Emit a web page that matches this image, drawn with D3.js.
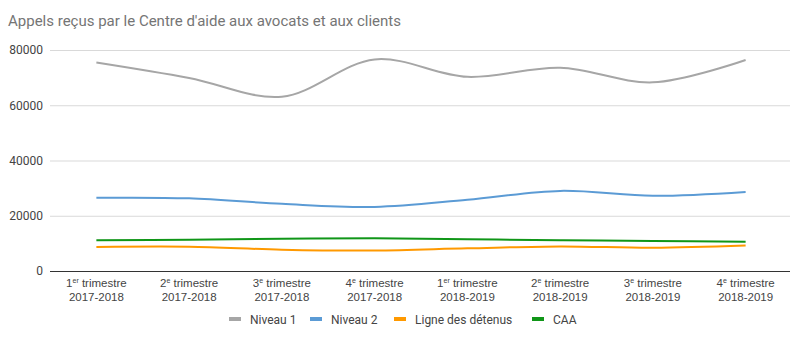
<!DOCTYPE html>
<html><head><meta charset="utf-8">
<script src="https://cdn.jsdelivr.net/npm/d3@7/dist/d3.min.js"></script>
<style>
html,body{margin:0;padding:0;background:#fff;}
svg{display:block;font-family:Roboto, "Noto Sans", sans-serif;}
</style></head>
<body><svg id="c" width="790" height="341"></svg>
<script>
const title = "Appels reçus par le Centre d'aide aux avocats et aux clients";
const quarterNums = ["1", "2", "3", "4", "1", "2", "3", "4"];
const quarterSups = ["er", "e", "e", "e", "er", "e", "e", "e"];
const quarterWord = " trimestre";
const years = ["2017-2018","2017-2018","2017-2018","2017-2018","2018-2019","2018-2019","2018-2019","2018-2019"];
const seriesNames = ["Niveau 1", "Niveau 2", "Ligne des détenus", "CAA"];
const niveau1 = [75500, 69900, 63100, 76600, 70300, 73600, 68300, 76400];
const niveau2 = [26500, 26300, 24300, 23200, 25800, 29000, 27200, 28600];
const detenus = [8700, 8800, 7700, 7400, 8200, 8900, 8400, 9200];
const caa = [11100, 11300, 11700, 11850, 11500, 11100, 10900, 10600];
const yTicks = [0, 20000, 40000, 60000, 80000];
const colors = ["#a6a6a6", "#5b9bd5", "#ff9900", "#109618"];

const svg = d3.select("#c");
const pLeft = 50, pRight = 792, pTop = 50, pBottom = 271;
const idx = d3.range(quarterNums.length);
const x = d3.scaleBand().domain(idx).range([pLeft, pRight]);
const y = d3.scaleLinear().domain([0, 80000]).range([pBottom, pTop]);

svg.append("text").attr("x", 8).attr("y", 26).attr("font-size", 15)
  .attr("fill", "#757575").text(title);

// grid
const yAxis = d3.axisLeft(y).tickValues(yTicks).tickSize(-(pRight - pLeft)).tickFormat(d3.format("d"));
const gy = svg.append("g").attr("transform", `translate(${pLeft},0)`).call(yAxis);
gy.select(".domain").remove();
gy.selectAll(".tick line").attr("stroke", "#d9d9d9");
gy.selectAll(".tick text").attr("x", -7).attr("fill", "#444").attr("font-size", 12)
  .attr("font-family", "Roboto, sans-serif");
gy.selectAll(".tick").filter(d => d === 0).select("line").attr("stroke", "#333");

// x axis labels
const xAxis = d3.axisBottom(x).tickSize(0).tickFormat("");
const gx = svg.append("g").attr("transform", `translate(0,${pBottom})`).call(xAxis);
gx.select(".domain").remove();
gx.selectAll(".tick").each(function(d){
  const g = d3.select(this);
  const t1 = g.append("text").attr("y", 16).attr("text-anchor", "middle")
    .attr("fill", "#444").attr("font-size", 11.5);
  t1.append("tspan").text(quarterNums[d]);
  t1.append("tspan").attr("font-size", 7).attr("dy", -4.5).text(quarterSups[d]);
  t1.append("tspan").attr("dy", 4.5).text(quarterWord);
  g.append("text").attr("y", 30).attr("text-anchor", "middle")
    .attr("fill", "#444").attr("font-size", 11.5).text(years[d]);
});

const all = [niveau1, niveau2, detenus, caa];
const line = d3.line().x((d, i) => x(i) + x.bandwidth() / 2).y(d => y(d)).curve(d3.curveCatmullRom.alpha(0.5));
[3, 2, 1, 0].forEach(k => {
  svg.append("path").datum(all[k]).attr("d", line).attr("fill", "none")
    .attr("stroke", colors[k]).attr("stroke-width", 2);
});

// legend
const legX = [229, 310, 394, 532];
const lg = svg.append("g");
seriesNames.forEach((n, k) => {
  lg.append("rect").attr("x", legX[k]).attr("y", 317).attr("width", 12).attr("height", 4)
    .attr("fill", colors[k]);
  lg.append("text").attr("x", legX[k] + 21).attr("y", 323.5).attr("font-size", 12)
    .attr("fill", "#444").text(n);
});
</script></body></html>
